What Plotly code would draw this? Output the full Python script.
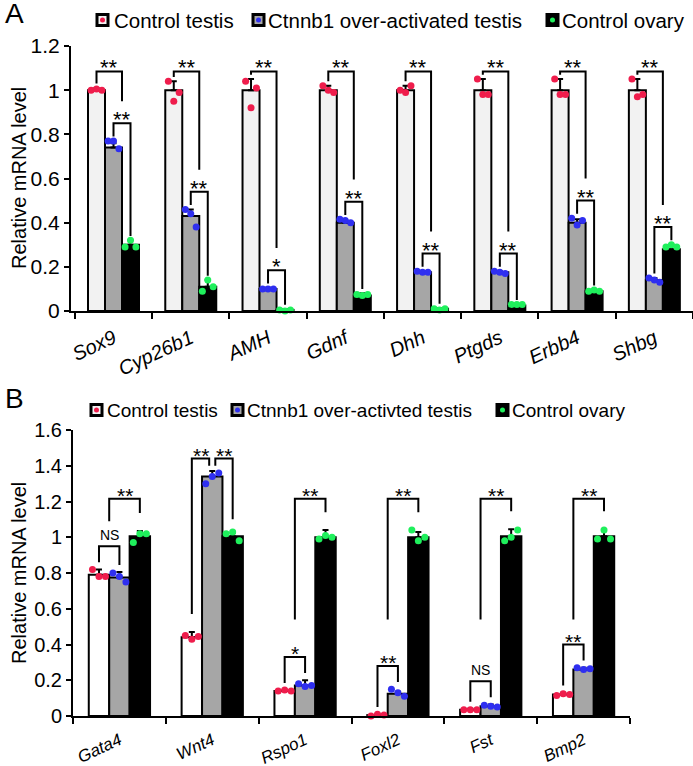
import plotly.graph_objects as go

# ---------------- panel A data ----------------
genes_a = ["Sox9", "Cyp26b1", "AMH", "Gdnf", "Dhh", "Ptgds", "Erbb4", "Shbg"]
ctrl_a = [1.0, 1.0, 1.0, 1.0, 1.0, 1.0, 1.0, 1.0]
ctrl_a_err = [0.01, 0.04, 0.05, 0.02, 0.02, 0.05, 0.05, 0.05]
ctrl_a_pts = [[1.0, 1.005, 1.0], [1.04, 0.95, 0.99], [1.04, 0.92, 1.01], [1.02, 1.0, 0.99],
              [1.0, 0.99, 1.02], [1.05, 0.98, 0.98], [1.05, 0.98, 0.98], [1.05, 0.97, 0.98]]
oe_a = [0.74, 0.43, 0.10, 0.40, 0.175, 0.175, 0.40, 0.14]
oe_a_err = [0.02, 0.03, 0.005, 0.01, 0.005, 0.005, 0.015, 0.01]
oe_a_pts = [[0.77, 0.77, 0.735], [0.46, 0.44, 0.38], [0.10, 0.10, 0.10], [0.415, 0.41, 0.40],
            [0.18, 0.175, 0.175], [0.18, 0.175, 0.17], [0.42, 0.39, 0.41], [0.15, 0.14, 0.13]]
ov_a = [0.30, 0.11, 0.005, 0.07, 0.01, 0.025, 0.09, 0.28]
ov_a_err = [0.02, 0.03, 0.003, 0.01, 0.003, 0.005, 0.005, 0.02]
ov_a_pts = [[0.29, 0.32, 0.29], [0.09, 0.14, 0.11], [0.005, 0.0, 0.005], [0.075, 0.07, 0.075],
            [0.01, 0.005, 0.01], [0.03, 0.03, 0.03], [0.09, 0.095, 0.09], [0.29, 0.30, 0.29]]
sig_a_1 = ["**"] * 8                                          # control vs over-activated
sig_a_2 = ["**", "**", "*", "**", "**", "**", "**", "**"]     # over-activated vs ovary
names_a = ["Control testis", "Ctnnb1 over-activated testis", "Control ovary"]

# ---------------- panel B data ----------------
genes_b = ["Gata4", "Wnt4", "Rspo1", "Foxl2", "Fst", "Bmp2"]
ctrl_b = [0.79, 0.44, 0.14, 0.005, 0.035, 0.12]
ctrl_b_err = [0.03, 0.03, 0.005, 0.005, 0.005, 0.01]
ctrl_b_pts = [[0.82, 0.78, 0.78], [0.45, 0.43, 0.445], [0.14, 0.145, 0.14], [0.0, 0.01, 0.005],
              [0.035, 0.035, 0.035], [0.115, 0.125, 0.12]]
oe_b = [0.775, 1.34, 0.17, 0.125, 0.055, 0.26]
oe_b_err = [0.03, 0.03, 0.03, 0.01, 0.01, 0.01]
oe_b_pts = [[0.80, 0.78, 0.75], [1.30, 1.34, 1.36], [0.18, 0.165, 0.17], [0.15, 0.13, 0.11],
            [0.06, 0.055, 0.05], [0.27, 0.26, 0.265]]
ov_b = [1.005, 1.005, 1.0, 1.0, 1.005, 1.005]
ov_b_err = [0.03, 0.02, 0.04, 0.03, 0.04, 0.04]
ov_b_pts = [[0.97, 1.02, 1.02], [1.02, 1.03, 0.98], [0.99, 1.01, 1.0], [1.04, 0.98, 1.0],
            [0.98, 1.0, 1.04], [0.99, 1.04, 0.99]]
sig_b_low = ["NS", "**", "*", "**", "NS", "**"]      # control vs over-activated
sig_b_high = ["**", None, "**", "**", "**", "**"]    # control vs ovary
sig_b_gb = [None, "**", None, None, None, None]      # over-activated vs ovary
names_b = ["Control testis", "Ctnnb1 over-activted testis", "Control ovary"]

# ---------------- style ----------------
W_PX, H_PX = 693, 766
FONT = "Liberation Sans, Arial, sans-serif"
W = 0.22                       # bar width (category units)
JIT = [-0.07, 0.0, 0.07]       # dot jitter inside a bar
DOTS = ["#ef1d4c", "#2f2ff0", "#1ff05c"]
FILL_A = ["#f2f2f2", "#a6a6a6", "#000000"]
FILL_B = ["#ffffff", "#a6a6a6", "#000000"]


def px(x):
    return x / W_PX


def py(y):
    return 1 - y / H_PX


fig = go.Figure()
shapes, annots = [], []


def add_bars(xr, yr, means, errs, pts, fills):
    n = len(means[0])
    for k in range(3):
        xs = [i + (k - 1) * W for i in range(n)]
        fig.add_trace(go.Bar(
            x=xs, y=means[k], width=W, xaxis=xr, yaxis=yr, showlegend=False,
            marker=dict(color=fills[k], line=dict(color="black", width=2)),
            error_y=dict(type="data", symmetric=False, array=errs[k], arrayminus=[0] * n,
                         color="black", thickness=2, width=3)))
    for k in range(3):
        dx, dy = [], []
        for i in range(n):
            for j, v in enumerate(pts[k][i]):
                dx.append(i + (k - 1) * W + JIT[j])
                dy.append(v)
        fig.add_trace(go.Scatter(
            x=dx, y=dy, mode="markers", xaxis=xr, yaxis=yr, showlegend=False, cliponaxis=False,
            marker=dict(color=DOTS[k], size=7, line=dict(width=0))))


def tops(means, errs, pts):
    return [[max(means[k][i] + errs[k][i], max(pts[k][i])) for i in range(len(means[0]))]
            for k in range(3)]


def bracket(xr, yr, x0, y0, x1, y1, top, label, size, yshift):
    shapes.append(dict(type="path", xref=xr, yref=yr,
                       path=f"M {x0},{y0} L {x0},{top} L {x1},{top} L {x1},{y1}",
                       line=dict(color="black", width=2)))
    fs = 14 if label == "NS" else size
    annots.append(dict(xref=xr, yref=yr, x=(x0 + x1) / 2, y=top, text=label, showarrow=False,
                       yanchor="bottom", yshift=yshift if label != "NS" else 1,
                       font=dict(family=FONT, size=fs, color="black")))


# ---------------- panel A ----------------
means_a = [ctrl_a, oe_a, ov_a]
errs_a = [ctrl_a_err, oe_a_err, ov_a_err]
pts_a = [ctrl_a_pts, oe_a_pts, ov_a_pts]
add_bars("x", "y", means_a, errs_a, pts_a, FILL_A)
ta = tops(means_a, errs_a, pts_a)
top1 = max(ta[0]) + 0.035
for i in range(len(genes_a)):
    top2 = max(ta[1][i], ta[2][i]) + 0.08
    bracket("x", "y", i - W, ta[0][i] + 0.02, i + W / 2, top2 + 0.1, top1, sig_a_1[i], 22, -11)
    bracket("x", "y", i, ta[1][i] + 0.02, i + W, ta[2][i] + 0.02, top2, sig_a_2[i], 22, -11)

# ---------------- panel B ----------------
means_b = [ctrl_b, oe_b, ov_b]
errs_b = [ctrl_b_err, oe_b_err, ov_b_err]
pts_b = [ctrl_b_pts, oe_b_pts, ov_b_pts]
add_bars("x2", "y2", means_b, errs_b, pts_b, FILL_B)
tb = tops(means_b, errs_b, pts_b)
top_hi = max(tb[2]) + 0.17
for i in range(len(genes_b)):
    if sig_b_high[i] is None:
        t = tb[1][i] + 0.07
        bracket("x2", "y2", i - W, tb[0][i] + 0.1, i - 0.15 * W, tb[1][i] + 0.03, t, sig_b_low[i], 21, -10)
        bracket("x2", "y2", i + 0.15 * W, tb[1][i] + 0.03, i + W, tb[2][i] + 0.07, t, sig_b_gb[i], 21, -10)
        continue
    low = max(tb[0][i], tb[1][i]) + 0.13
    bracket("x2", "y2", i - W, tb[0][i] + 0.04, i, tb[1][i] + 0.04, low, sig_b_low[i], 21, -10)
    bracket("x2", "y2", i - W / 2, max(0.54, low + 0.14), i + W, tb[2][i] + 0.1, top_hi,
            sig_b_high[i], 21, -10)

# ---------------- manual legends, panel letters, y titles ----------------
def legend(items, y, size, texts):
    for (xm, xt), col, fill, t in zip(items, DOTS, FILL_A, texts):
        shapes.append(dict(type="rect", xref="paper", yref="paper", x0=px(xm), x1=px(xm + 11),
                           y0=py(y - 5.5), y1=py(y + 5.5), fillcolor=fill,
                           line=dict(color="black", width=3)))
        shapes.append(dict(type="circle", xref="paper", yref="paper", x0=px(xm + 3), x1=px(xm + 8),
                           y0=py(y - 2.5), y1=py(y + 2.5), fillcolor=col, line=dict(width=0)))
        annots.append(dict(xref="paper", yref="paper", x=px(xt), y=py(y), text=t, showarrow=False,
                           xanchor="left", yanchor="middle",
                           font=dict(family=FONT, size=size, color="black")))


legend([(97, 112), (253, 266), (547, 560)], 20, 20.5, names_a)
legend([(91, 105), (232, 245), (497, 510)], 410, 19, names_b)

for letter, y in [("A", 14), ("B", 398)]:
    annots.append(dict(xref="paper", yref="paper", x=px(3), y=py(y), text=letter, showarrow=False,
                       xanchor="left", yanchor="middle", font=dict(family=FONT, size=28, color="black")))
for y, size in [(178, 20), (573, 20)]:
    annots.append(dict(xref="paper", yref="paper", x=px(19), y=py(y), text="Relative mRNA level",
                       textangle=-90, showarrow=False, xanchor="center", yanchor="middle",
                       font=dict(family=FONT, size=size, color="black")))

# ---------------- axes ----------------
def xax(domain, rng, genes, size):
    n = len(genes)
    return dict(domain=domain, range=rng, tickmode="array", tickvals=list(range(n)),
                ticktext=[f"<i>{g}</i>" for g in genes], tickangle=-25,
                tickfont=dict(family=FONT, size=size, color="black"),
                ticks="outside", ticklen=6, tickcolor="rgba(0,0,0,0)",
                minor=dict(tickmode="array", tickvals=[i - 0.5 for i in range(n + 1)],
                           ticks="outside", ticklen=6, tickwidth=2, tickcolor="black"),
                showline=True, linecolor="black", linewidth=2, showgrid=False, zeroline=False,
                automargin=False, fixedrange=True)


def yax(domain, rng, size):
    return dict(domain=domain, range=rng, dtick=0.2, tick0=0, ticks="outside", ticklen=5,
                tickwidth=2, tickcolor="black", tickfont=dict(family=FONT, size=size, color="black"),
                showline=True, linecolor="black", linewidth=2, showgrid=False, zeroline=False,
                automargin=False)


fig.update_layout(
    width=W_PX, height=H_PX, template="none", plot_bgcolor="white", paper_bgcolor="white",
    margin=dict(l=0, r=0, t=0, b=0), showlegend=False, barmode="overlay",
    xaxis=dict(xax([px(71), 1], [-0.55, 7.5], genes_a, 20), anchor="y"),
    yaxis=dict(yax([py(311), py(46)], [0, 1.2], 21), anchor="x"),
    xaxis2=dict(xax([px(73), px(630)], [-0.5, 5.5], genes_b, 17), anchor="y2"),
    yaxis2=dict(yax([py(716), py(430)], [0, 1.6], 20), anchor="x2"),
    shapes=shapes, annotations=annots,
)

fig.write_html("out.html", config={"displayModeBar": False},
               post_script="document.body.style.margin='0px';")
